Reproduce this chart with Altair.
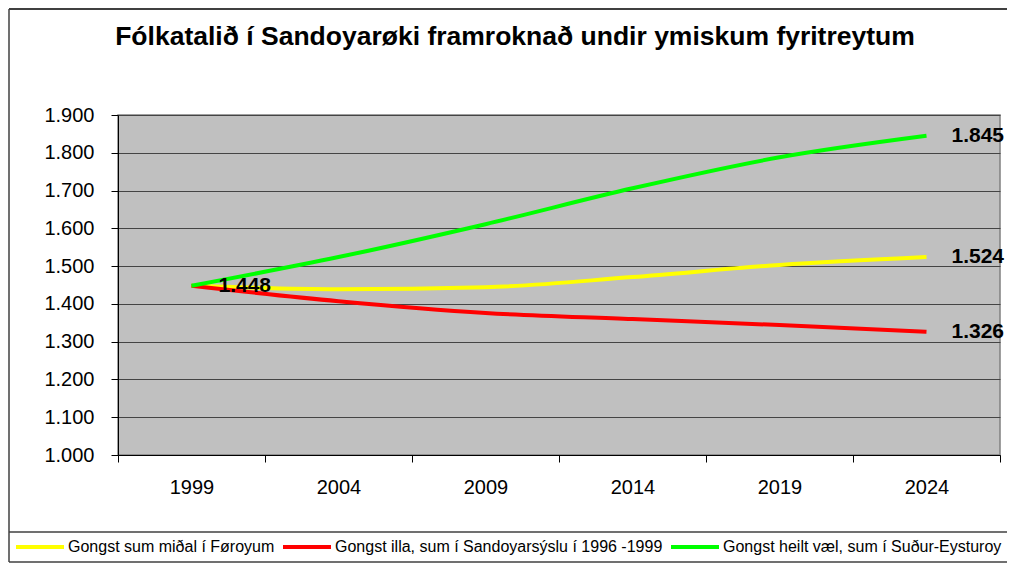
import altair as alt
import pandas as pd

years = ["1999", "2004", "2009", "2014", "2019", "2024"]
series_names = [
    "Gongst sum miðal í Føroyum",
    "Gongst illa, sum í Sandoyarsýslu í 1996 -1999",
    "Gongst heilt væl, sum í Suður-Eysturoy",
]
yellow_vals = [1448, 1439, 1444, 1471, 1503, 1524]
red_vals = [1448, 1407, 1376, 1360, 1344, 1326]
green_vals = [1448, 1524, 1611, 1706, 1788, 1845]
colors = ["#FFFF00", "#FF0000", "#00FF00"]
y_ticks = [1000, 1100, 1200, 1300, 1400, 1500, 1600, 1700, 1800, 1900]

rows = []
for name, vals in zip(series_names, [yellow_vals, red_vals, green_vals]):
    for yr, v in zip(years, vals):
        rows.append({"year": yr, "value": v, "series": name})
df = pd.DataFrame(rows)

label_rows = [{"year": years[0], "value": yellow_vals[0], "kind": "start"}]
for vals in [green_vals, yellow_vals, red_vals]:
    label_rows.append({"year": years[-1], "value": vals[-1], "kind": "end"})
ldf = pd.DataFrame(label_rows)

FONT = "Liberation Sans"
fmt = "replace(format(datum.value, ',.0f'), ',', '.')"

x_enc = alt.X(
    "year:N",
    sort=years,
    scale=alt.Scale(paddingInner=0, paddingOuter=0),
    axis=alt.Axis(
        title=None, labelAngle=0, tickBand="extent", tickSize=7,
        tickColor="#000000", domainColor="#000000", labelFontSize=20,
        labelFont=FONT, labelColor="#000000", labelPadding=15, grid=False,
    ),
)
y_enc = alt.Y(
    "value:Q",
    scale=alt.Scale(domain=[1000, 1900], nice=False, zero=False),
    axis=alt.Axis(
        title=None, values=y_ticks, tickCount=10, labelOverlap=False,
        labelExpr=fmt, tickSize=7,
        tickColor="#000000", domainColor="#000000", labelFontSize=20,
        labelFont=FONT, labelColor="#000000", labelPadding=17,
        grid=True, gridColor="#444444", gridWidth=1,
    ),
)

lines = alt.Chart(df).mark_line(strokeWidth=4, interpolate="monotone").encode(
    x=x_enc,
    y=y_enc,
    color=alt.Color(
        "series:N",
        scale=alt.Scale(domain=series_names, range=colors),
        legend=alt.Legend(
            title=None, orient="none", legendX=-104, legendY=406,
            direction="horizontal", symbolType="stroke", symbolSize=2304,
            symbolStrokeWidth=4, labelFontSize=16, labelFont=FONT,
            labelColor="#000000", columnPadding=0, labelOffset=2,
            padding=0, labelLimit=600,
        ),
    ),
)

start_lab = alt.Chart(ldf).transform_filter("datum.kind == 'start'").transform_calculate(
    txt=fmt
).mark_text(align="left", baseline="middle", dx=27, fontSize=21,
            fontWeight="bold", font=FONT, color="#000000").encode(
    x=alt.X("year:N", sort=years), y="value:Q", text="txt:N"
)
end_lab = alt.Chart(ldf).transform_filter("datum.kind == 'end'").transform_calculate(
    txt=fmt
).mark_text(align="left", baseline="middle", dx=25, fontSize=21,
            fontWeight="bold", font=FONT, color="#000000").encode(
    x=alt.X("year:N", sort=years), y="value:Q", text="txt:N"
)

one = alt.Data(values=[{"a": 1}])
bc = "#404040"
frame_top = alt.Chart(one).mark_rule(color=bc, strokeWidth=2).encode(
    x=alt.value(-109), x2=alt.value(889), y=alt.value(-106))
frame_left = alt.Chart(one).mark_rule(color=bc, strokeWidth=1.5).encode(
    x=alt.value(-109), y=alt.value(-106), y2=alt.value(447))
leg_top = alt.Chart(one).mark_rule(color=bc, strokeWidth=1.5).encode(
    x=alt.value(-109), x2=alt.value(889), y=alt.value(417))
leg_bot = alt.Chart(one).mark_rule(color=bc, strokeWidth=1.5).encode(
    x=alt.value(-109), x2=alt.value(889), y=alt.value(447))

chart = alt.layer(lines, start_lab, end_lab, frame_top, frame_left, leg_top, leg_bot).properties(
    width=882,
    height=340,
    background="#FFFFFF",
    autosize=alt.AutoSizeParams(type="none"),
    padding={"left": 110, "top": 107, "right": 7, "bottom": 108},
    title=alt.TitleParams(
        "Fólkatalið í Sandoyarøki framroknað undir ymiskum fyritreytum",
        fontSize=26.5, font=FONT, fontWeight="bold", color="#000000",
        anchor="middle", dx=-44, offset=-63, baseline="alphabetic",
    ),
).configure_view(
    fill="#C0C0C0", stroke="#808080", strokeWidth=1.5
)

chart.save("out.html", embed_options={"renderer": "svg", "actions": False})
